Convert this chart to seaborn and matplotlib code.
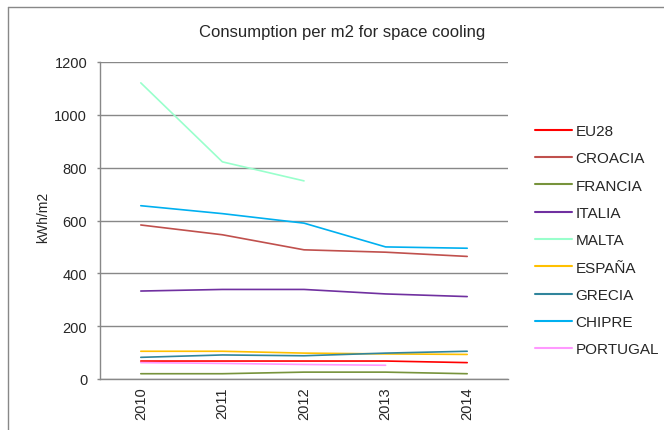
import numpy as np
import pandas as pd
import matplotlib
matplotlib.use("Agg")
import matplotlib.pyplot as plt
import seaborn as sns
from matplotlib.lines import Line2D

years = ["2010", "2011", "2012", "2013", "2014"]
eu28 = [68, 68, 68, 68, 62]
croacia = [583, 546, 489, 480, 464]
francia = [20, 20, 26, 26, 20]
italia = [333, 339, 339, 322, 312]
malta = [1121, 822, 750, np.nan, np.nan]
espana = [105, 105, 98, 95, 93]
grecia = [82, 91, 88, 98, 105]
chipre = [656, 626, 590, 500, 495]
portugal = [62, 59, 55, 52, np.nan]

series_names = ["EU28", "CROACIA", "FRANCIA", "ITALIA", "MALTA", "ESPAÑA", "GRECIA", "CHIPRE", "PORTUGAL"]
series_values = [eu28, croacia, francia, italia, malta, espana, grecia, chipre, portugal]
colors = ["#FF0000", "#C0504D", "#77933C", "#7030A0", "#99FFCC", "#FFC000", "#31859C", "#00B0F0", "#FF99FF"]

rows = []
for name, vals in zip(series_names, series_values):
    for i, v in enumerate(vals):
        rows.append({"idx": i, "year": years[i], "country": name, "value": v})
df = pd.DataFrame(rows).dropna()

sns.set_style("white")
plt.rcParams["font.family"] = ["Liberation Sans", "DejaVu Sans"]

fig = plt.figure(figsize=(6.64, 4.31), dpi=100)
ax = fig.add_axes([100/664, (431-380)/431, 408/664, 317/431])

sns.lineplot(data=df, x="idx", y="value", hue="country", hue_order=series_names,
             palette=dict(zip(series_names, colors)), linewidth=1.2, ax=ax, legend=False,
             estimator=None, sort=False)

ax.set_xlim(-0.5, 4.5)
ax.set_ylim(0, 1200)
ax.set_yticks(range(0, 1201, 200))
ax.set_yticklabels([str(v) for v in range(0, 1201, 200)], fontsize=10.5)
ax.set_xticks(range(len(years)))
ax.set_xticklabels(years, rotation=90, fontsize=10.5)
ax.tick_params(axis="x", length=0, pad=5.5)
ax.tick_params(axis="y", length=2.2, color="#888888", width=1, pad=7, left=True, direction="out")
ax.grid(axis="y", color="#888888", linewidth=1)
ax.set_axisbelow(True)
for s in ["top", "right"]:
    ax.spines[s].set_visible(False)
for s in ["left", "bottom"]:
    ax.spines[s].set_color("#888888")
    ax.spines[s].set_linewidth(1)
ax.set_xlabel("")
ax.set_ylabel("kWh/m2", fontsize=10)
ax.yaxis.set_label_coords((50 - 100) / 408, (431 - 217 - 51) / 317, transform=ax.transAxes)

fig.text(342/664, 1-32/431, "Consumption per m2 for space cooling", ha="center", va="center", fontsize=12)

handles = [Line2D([0], [0], color=c, linewidth=1.5) for c in colors]
fig.legend(handles, series_names, loc="upper left", bbox_to_anchor=(529/664, 1-119/431),
           frameon=False, fontsize=11, handlelength=2.4, labelspacing=0.87, handletextpad=0.26,
           borderaxespad=0)

# chart border (partial, as in the reference)
fig.add_artist(Line2D([8/664, 1], [1-8/431, 1-8/431], transform=fig.transFigure, color="#888888", linewidth=1))
fig.add_artist(Line2D([8/664, 8/664], [0, 1-8/431], transform=fig.transFigure, color="#888888", linewidth=1))

fig.savefig("out.png", dpi=100)
